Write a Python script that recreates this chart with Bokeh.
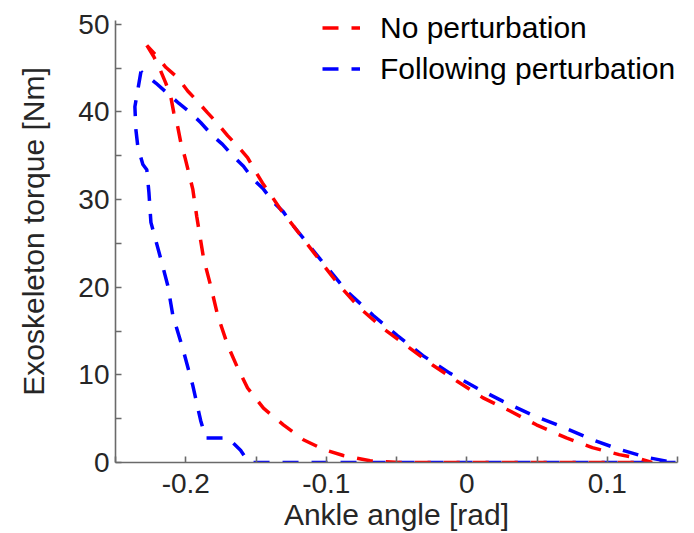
from bokeh.plotting import figure
from bokeh.models import FixedTicker, Legend, LegendItem, Range1d
from bokeh.embed import file_html
from bokeh.resources import INLINE

# ---- data ----
red_angle = [-0.2277, -0.2227, -0.2184, -0.2142, -0.2106, -0.2085, -0.2057, -0.2035,
             -0.2007, -0.1979, -0.1950, -0.1922, -0.1872, -0.1823, -0.1773, -0.1702,
             -0.1631, -0.1560, -0.1447, -0.1305, -0.1163, -0.1021, -0.0879, -0.0688,
             -0.0475, 0.1319, 0.1227, 0.1085, 0.0894, 0.0709, 0.0496, 0.0305,
             0.0113, -0.0071, -0.0241, -0.0426, -0.0596, -0.0759, -0.0901, -0.1043,
             -0.1234, -0.1326, -0.1397, -0.1454, -0.1511, -0.1560, -0.1631, -0.1702,
             -0.1780, -0.1844, -0.1922, -0.1986, -0.2057, -0.2142, -0.2213, -0.2277]
red_torque = [47.6, 46.3, 44.9, 43.3, 41.7, 39.9, 38.3, 36.5,
              34.9, 33.1, 31.2, 28.1, 23.2, 20.2, 16.8, 13.4,
              10.8, 8.5, 6.2, 4.3, 2.6, 1.5, 0.8, 0.2,
              0.0, 0.0, 0.45, 0.9, 1.7, 2.8, 4.3, 5.9,
              7.4, 9.3, 11.1, 13.3, 15.3, 17.6, 20.1, 23.0,
              27.0, 28.9, 30.6, 31.9, 33.4, 34.8, 36.1, 37.3,
              38.8, 39.9, 41.3, 42.4, 43.9, 45.1, 46.5, 47.6]

blue_angle = [-0.2319, -0.2362, -0.2355, -0.2340, -0.2305, -0.2277, -0.2262, -0.2248,
              -0.2177, -0.2128, -0.2092, -0.2021, -0.1950, -0.1894, -0.1858, -0.1702,
              -0.1681, -0.1610, -0.1560, -0.1539, 0.1500, 0.1440, 0.1277, 0.1085,
              0.0894, 0.0660, 0.0468, 0.0255, 0.0071, -0.0121, -0.0312, -0.0496,
              -0.0667, -0.0851, -0.1043, -0.1234, -0.1305, -0.1376, -0.1447, -0.1518,
              -0.1589, -0.1660, -0.1738, -0.1809, -0.1894, -0.1965, -0.2050, -0.2121,
              -0.2213, -0.2284, -0.2319]
blue_torque = [44.6, 40.6, 38.0, 35.9, 34.0, 33.4, 30.8, 27.4,
               23.2, 20.2, 16.8, 13.0, 8.8, 4.8, 2.8, 2.8,
               2.5, 1.4, 0.2, 0.0, 0.0, 0.1, 0.6, 1.5,
               2.6, 4.2, 5.4, 7.0, 8.5, 10.2, 12.2, 14.5,
               16.8, 19.5, 23.2, 27.0, 28.6, 29.7, 31.2, 32.3,
               33.8, 34.9, 36.3, 37.3, 38.8, 39.9, 41.0, 42.0,
               43.3, 44.2, 44.6]

x_major = [-0.2, -0.1, 0.0, 0.1]
x_minor = [-0.25, -0.15, -0.05, 0.05, 0.15]
x_labels = {-0.2: "-0.2", -0.1: "-0.1", 0: "0", 0.1: "0.1"}
y_major = [0, 10, 20, 30, 40, 50]
y_minor = [5, 15, 25, 35, 45]

series_names = ["No perturbation", "Following perturbation"]

FONT = "Liberation Sans"
AX = "#6a6a6a"
TXT = "#262626"

# frame reaches the top of the canvas so the legend (which sits above the
# 50 Nm tick in the reference) is not clipped; the axis is bounded to 0..50
PLOT_H = 533
BOTTOM = 68
FRAME_H = PLOT_H - BOTTOM
Y_TOP = 50 * FRAME_H / (FRAME_H - 24)

p = figure(width=694, height=PLOT_H, output_backend="svg", toolbar_location=None,
           title=None,
           x_range=Range1d(-0.25, 0.15), y_range=Range1d(0, Y_TOP),
           min_border_left=115, min_border_right=17, min_border_top=0,
           min_border_bottom=BOTTOM)
p.outline_line_color = None
p.grid.visible = False
p.background_fill_color = "white"

blue = p.line(blue_angle, blue_torque, line_color="#0000ff", line_width=3.5,
              line_dash="16 13")
red = p.line(red_angle, red_torque, line_color="#ff0000", line_width=3.5,
             line_dash="16 13")

for ax in (p.xaxis[0], p.yaxis[0]):
    ax.axis_line_color = AX
    ax.axis_line_width = 1.6
    ax.major_tick_line_color = AX
    ax.minor_tick_line_color = AX
    ax.major_tick_line_width = 1.6
    ax.minor_tick_line_width = 1.6
    ax.major_tick_in = 6
    ax.major_tick_out = 0
    ax.minor_tick_in = 6
    ax.minor_tick_out = 0
    ax.major_label_text_font = FONT
    ax.major_label_text_font_size = "28px"
    ax.major_label_text_color = TXT
    ax.axis_label_text_font = FONT
    ax.axis_label_text_font_size = "30px"
    ax.axis_label_text_font_style = "normal"
    ax.axis_label_text_color = TXT

p.xaxis[0].ticker = FixedTicker(ticks=x_major, minor_ticks=x_minor)
p.xaxis[0].major_label_overrides = x_labels
p.xaxis[0].axis_label = "Ankle angle [rad]"
p.xaxis[0].major_label_standoff = 11
p.xaxis[0].axis_label_standoff = 2

p.yaxis[0].ticker = FixedTicker(ticks=y_major, minor_ticks=y_minor)
p.yaxis[0].bounds = (0, 50.4)
p.yaxis[0].axis_label = "Exoskeleton torque [Nm]"
p.yaxis[0].major_label_standoff = 6
p.yaxis[0].axis_label_standoff = 25

legend = Legend(items=[LegendItem(label=series_names[0], renderers=[red]),
                       LegendItem(label=series_names[1], renderers=[blue])],
                location=(207, 373), padding=0, spacing=0, margin=0,
                glyph_width=38, glyph_height=41, label_height=41,
                label_standoff=20, border_line_color=None,
                background_fill_alpha=0.0,
                label_text_font=FONT, label_text_font_size="30px",
                label_text_color="black")
p.add_layout(legend)

open("out.html", "w").write(file_html(p, INLINE))
